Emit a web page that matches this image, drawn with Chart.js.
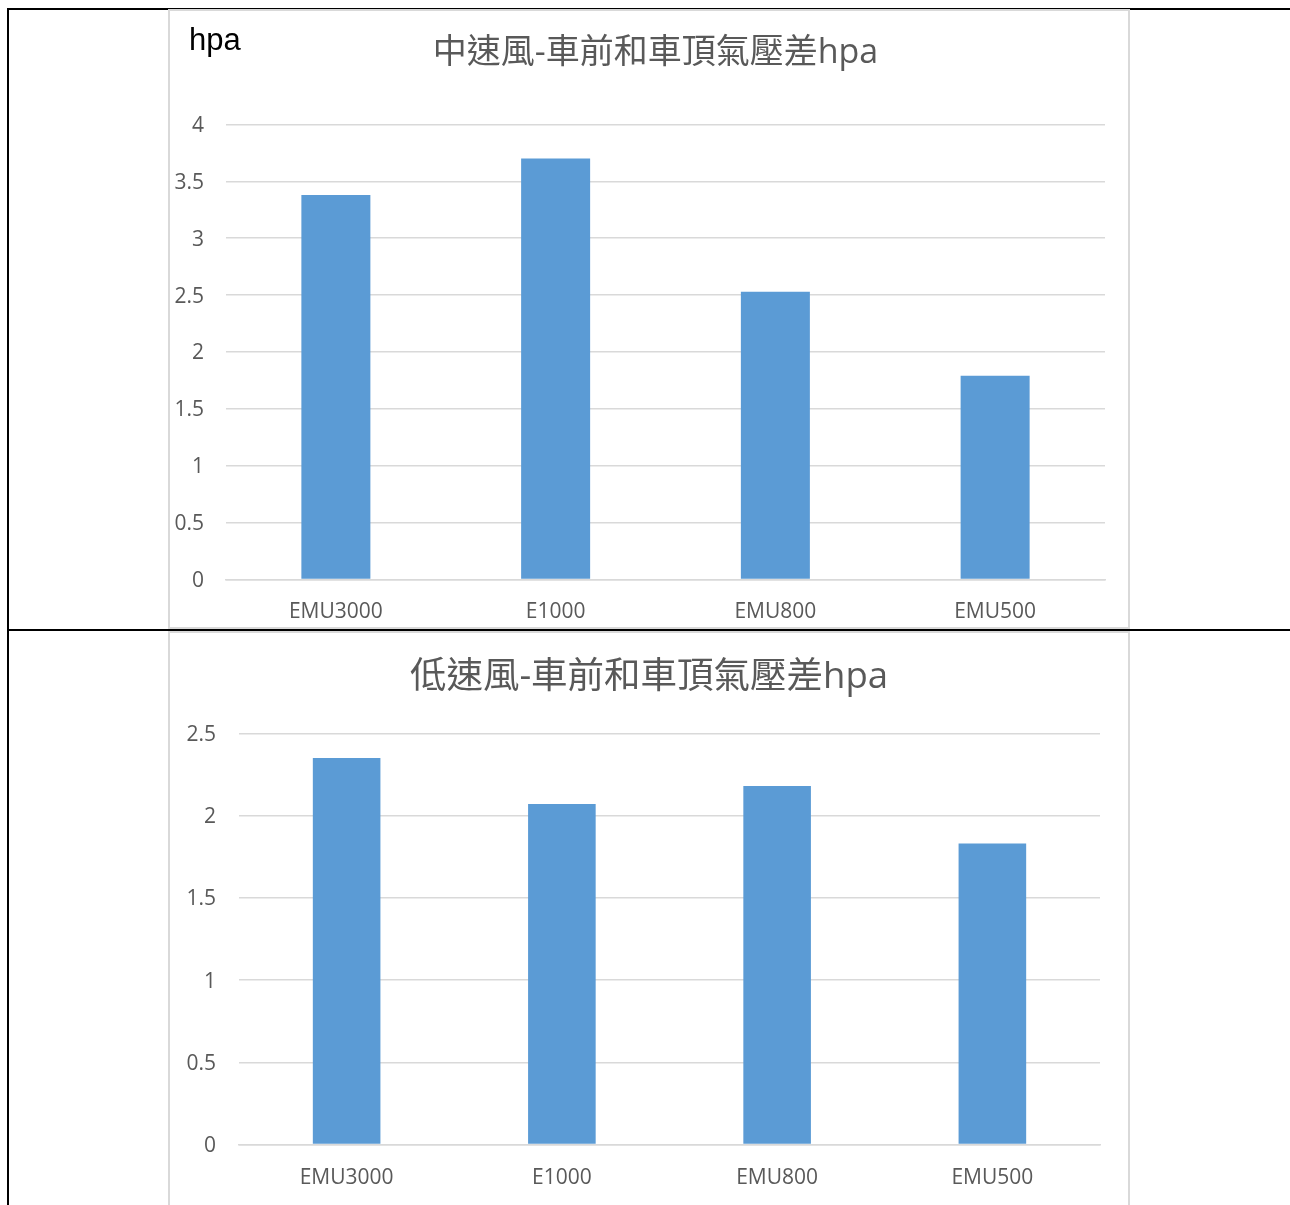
<!DOCTYPE html>
<html>
<head>
<meta charset="utf-8">
<script src="https://cdn.jsdelivr.net/npm/chart.js@4/dist/chart.umd.min.js"></script>
<style>
  html, body { margin: 0; padding: 0; background: #fff; width: 1290px; height: 1205px; overflow: hidden; position: relative; }
  .line { position: absolute; background: #000; }
  .panel { position: absolute; background: #fff; border: 2px solid #D9D9D9; box-sizing: border-box; }
  .cw { position: absolute; }
  #unit { position: absolute; left: 189px; top: 24px; font: 31px/31px "Liberation Sans", Arial, sans-serif; color: #000; }
</style>
</head>
<body>
<div class="line" style="left:7px; top:8px; width:1283px; height:2px;"></div>
<div class="line" style="left:7px; top:8px; width:2px; height:1197px;"></div>
<div class="line" style="left:7px; top:629px; width:1283px; height:2px;"></div>

<div class="panel" style="left:168px; top:9px; width:962px; height:620px;"></div>
<div class="panel" style="left:168px; top:631px; width:962px; height:590px;"></div>

<div class="cw" style="left:170px; top:11px; width:958px; height:616px;"><canvas id="c1"></canvas></div>
<div class="cw" style="left:170px; top:633px; width:958px; height:572px;"><canvas id="c2"></canvas></div>
<div id="unit">hpa</div>

<script>
const categories = ["EMU3000", "E1000", "EMU800", "EMU500"];
const mediumWind = [3.38, 3.70, 2.53, 1.79];
const lowWind = [2.35, 2.07, 2.18, 1.83];
const title1 = "中速風-車前和車頂氣壓差hpa";
const title2 = "低速風-車前和車頂氣壓差hpa";
const yTicks1 = [0, 0.5, 1, 1.5, 2, 2.5, 3, 3.5, 4];
const yTicks2 = [0, 0.5, 1, 1.5, 2, 2.5];

const tickFont = { family: "'Open Sans', 'Noto Sans CJK TC', sans-serif", size: 21 };
const titleFamily = "'Open Sans', 'Noto Sans CJK TC', sans-serif";

const titleShift = {
  id: 'titleShift',
  afterLayout(chart, args, opts) {
    const tb = chart.titleBlock;
    if (tb && opts.dx) { tb.left += opts.dx; tb.right += opts.dx; }
  }
};

function makeChart(id, values, title, ticks, o) {
  return new Chart(document.getElementById(id), {
    type: 'bar',
    data: {
      labels: categories,
      datasets: [{
        data: values,
        backgroundColor: '#5B9BD5',
        borderWidth: 0,
        categoryPercentage: 1,
        barPercentage: 0.314
      }]
    },
    plugins: [titleShift],
    options: {
      responsive: true,
      maintainAspectRatio: false,
      animation: false,
      layout: { padding: { left: 0, right: o.padRight, top: 0, bottom: 0 } },
      plugins: {
        legend: { display: false },
        tooltip: { enabled: false },
        titleShift: { dx: o.titleDx },
        title: {
          display: true,
          text: title,
          color: '#595959',
          font: { family: titleFamily, size: o.titleSize, weight: 'normal' },
          padding: { top: o.titleTop, bottom: o.titleBottom }
        }
      },
      scales: {
        x: {
          grid: { display: false, drawTicks: false },
          border: { display: true, color: '#D9D9D9', width: 1.5 },
          ticks: { color: '#595959', font: tickFont, padding: o.xPad, maxRotation: 0 },
          afterFit: s => { s.height = o.xHeight; }
        },
        y: {
          min: 0,
          max: ticks[ticks.length - 1],
          afterBuildTicks: s => { s.ticks = ticks.map(v => ({ value: v })); },
          grid: { color: '#D9D9D9', lineWidth: 1.5, drawTicks: false },
          border: { display: false },
          ticks: { color: '#595959', font: tickFont, padding: o.yPad, labelOffset: 1.5, callback: v => String(v) },
          afterFit: s => { s.width = o.yWidth; }
        }
      }
    }
  });
}

makeChart('c1', mediumWind, title1, yTicks1, {
  padRight: 23, titleSize: 34, titleTop: 22, titleBottom: 50.6, titleDx: 18,
  xPad: 20, xHeight: 47.5, yPad: 22, yWidth: 56
});
makeChart('c2', lowWind, title2, yTicks2, {
  padRight: 28, titleSize: 36.5, titleTop: 22.5, titleBottom: 34, titleDx: 14,
  xPad: 21, xHeight: 60.5, yPad: 23, yWidth: 69
});
</script>
</body>
</html>
